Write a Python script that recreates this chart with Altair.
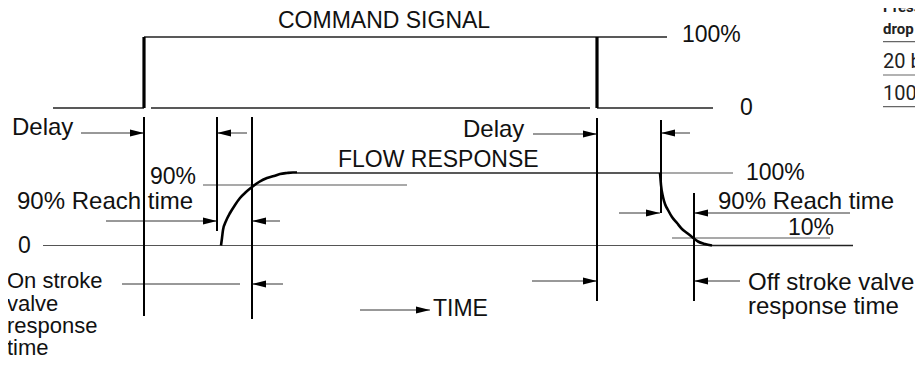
import altair as alt
import pandas as pd

# ---------------- data (reference pixel coordinates of the schematic) ----------------
# command signal step edges (thick)
command_edges = [(144, 108, 144, 37), (597, 37, 597, 108)]
# command signal levels
command_levels = [(53, 108, 144, 108), (144, 37, 667, 37), (597, 108, 713, 108), (151, 108, 590, 108)]
# timing marker verticals
markers = [(144, 117, 144, 316), (217, 117, 217, 231), (252, 117, 252, 319),
           (597, 118, 597, 301), (661, 120, 661, 213), (694, 193, 694, 301)]
# reference levels of the flow response
levels_dark = [(297, 173, 660, 173), (712, 245.5, 853, 245.5)]
levels_grey = [(660, 173, 733, 173), (43, 245.5, 712, 245.5), (203, 185, 407, 185), (672, 238, 830, 238)]
# arrow shafts
shafts = [(81, 133, 144, 133), (217, 133, 247, 133), (533, 134, 597, 134), (661, 133, 690, 133),
          (106, 221, 217, 221), (252, 221, 280, 221), (122, 284, 240, 284), (252, 284, 283, 284),
          (360, 310, 430, 310), (619, 213, 660, 213), (694, 213, 850, 213),
          (532, 281, 597, 281), (694, 281, 740, 281)]
# arrow tips
tips_right_x = [144, 597, 217, 430, 660, 597]
tips_right_y = [133, 134, 221, 310, 213, 281]
tips_left_x = [217, 661, 252, 252, 694, 694]
tips_left_y = [133, 133, 221, 284, 213, 281]

# flow response curves
on_curve_x = [221, 222, 223, 226, 230, 235, 240, 246, 252, 259, 267, 274, 280, 287, 293, 297]
on_curve_y = [245.5, 238, 230, 221, 213, 205, 198, 192, 187, 182, 178, 176, 174, 173, 172.5, 172.5]
off_curve_x = [660, 660.5, 661, 663, 665, 668, 672, 677, 682, 687, 692, 698, 705, 712]
off_curve_y = [173, 179, 185, 197, 204, 210, 217, 223, 229, 233, 237, 241.5, 244, 245.5]

# labels: capitals / numbers
cap_labels = ["COMMAND SIGNAL", "100%", "0", "FLOW RESPONSE", "100%", "90%", "0", "TIME", "10%"]
cap_x = [278, 682, 740, 338, 746, 150, 18, 433, 788]
cap_y = [28.3, 41.7, 115, 166.7, 180, 184, 253, 315.7, 234.7]
# single-line labels with lower-case text
text_labels = ["Delay", "Delay", "90% Reach time", "90% Reach time", "Off stroke valve", "response time"]
text_x = [12, 463, 17, 718, 748, 748]
text_y = [135.3, 136.5, 209, 209, 289.7, 314]
# stacked label at the lower left
stack_labels = ["On stroke", "valve", "response", "time"]
stack_x = [7, 7, 7, 7]
stack_y = [288, 310.5, 333, 355]

# side table (cropped at the right edge of the picture)
table_head = ["Press", "drop"]
table_head_y = [12, 33.5]
table_rows = ["20 b", "100"]
table_rows_y = [68, 100]
table_rules = [(883, 41.7, 930, 41.7), (883, 75, 930, 75), (883, 106.7, 930, 106.7)]
table_x = 883

# ---------------- chart ----------------
X = alt.Scale(domain=[8, 915], nice=False, zero=False)
Y = alt.Scale(domain=[358, 8], nice=False, zero=False)
FONT = "Liberation Sans, Arial, Helvetica, sans-serif"
NARROW = "Roboto, Liberation Sans, sans-serif"


def seg_layer(segs, width, color):
    df = pd.DataFrame(segs, columns=["x1", "y1", "x2", "y2"])
    return alt.Chart(df).mark_rule(strokeWidth=width, color=color, strokeCap="butt").encode(
        x=alt.X("x1:Q", scale=X, axis=None),
        y=alt.Y("y1:Q", scale=Y, axis=None),
        x2="x2:Q",
        y2="y2:Q",
    )


def text_layer(texts, xs, ys, size, font, weight="normal", color="#111"):
    df = pd.DataFrame({"label": texts, "x": xs, "y": ys})
    return alt.Chart(df).mark_text(
        align="left", baseline="alphabetic", fontSize=size, font=font,
        fontWeight=weight, color=color
    ).encode(
        x=alt.X("x:Q", scale=X, axis=None),
        y=alt.Y("y:Q", scale=Y, axis=None),
        text="label:N",
    )


def curve_layer(xs, ys):
    df = pd.DataFrame({"x": xs, "y": ys, "i": list(range(len(xs)))})
    return alt.Chart(df).mark_line(strokeWidth=2.6, color="black", interpolate="monotone").encode(
        x=alt.X("x:Q", scale=X, axis=None),
        y=alt.Y("y:Q", scale=Y, axis=None),
        order="i:Q",
    )


def tip_layer(xs, ys, path):
    df = pd.DataFrame({"x": xs, "y": ys})
    return alt.Chart(df).mark_point(
        shape=path, filled=True, size=196, color="black", opacity=1, strokeWidth=0
    ).encode(
        x=alt.X("x:Q", scale=X, axis=None),
        y=alt.Y("y:Q", scale=Y, axis=None),
    )


layers = [
    seg_layer(levels_grey, 1.1, "#555"),
    seg_layer(levels_dark, 1.4, "#222"),
    seg_layer(shafts, 1.0, "#333"),
    seg_layer(command_levels, 1.5, "#222"),
    seg_layer(markers, 2.0, "black"),
    seg_layer(command_edges, 3.2, "black"),
    seg_layer(table_rules, 1.2, "#666"),
    curve_layer(on_curve_x, on_curve_y),
    curve_layer(off_curve_x, off_curve_y),
    tip_layer(tips_right_x, tips_right_y, "M0,0 L-2,-0.5 L-2,0.5 Z"),
    tip_layer(tips_left_x, tips_left_y, "M0,0 L2,-0.5 L2,0.5 Z"),
    text_layer(cap_labels, cap_x, cap_y, 23, FONT),
    text_layer(text_labels, text_x, text_y, 24, FONT),
    text_layer(stack_labels, stack_x, stack_y, 22, FONT),
    text_layer(table_head, [table_x] * 2, table_head_y, 15, NARROW, weight="bold", color="#222"),
    text_layer(table_rows, [table_x] * 2, table_rows_y, 20, NARROW, color="#222"),
]

chart = alt.layer(*layers).properties(
    width=907,
    height=350,
    autosize=alt.AutoSizeParams(type="none"),
    padding=0,
    background="white",
).configure_view(stroke=None)

chart.save("out.html", embed_options={"renderer": "svg", "actions": False})
